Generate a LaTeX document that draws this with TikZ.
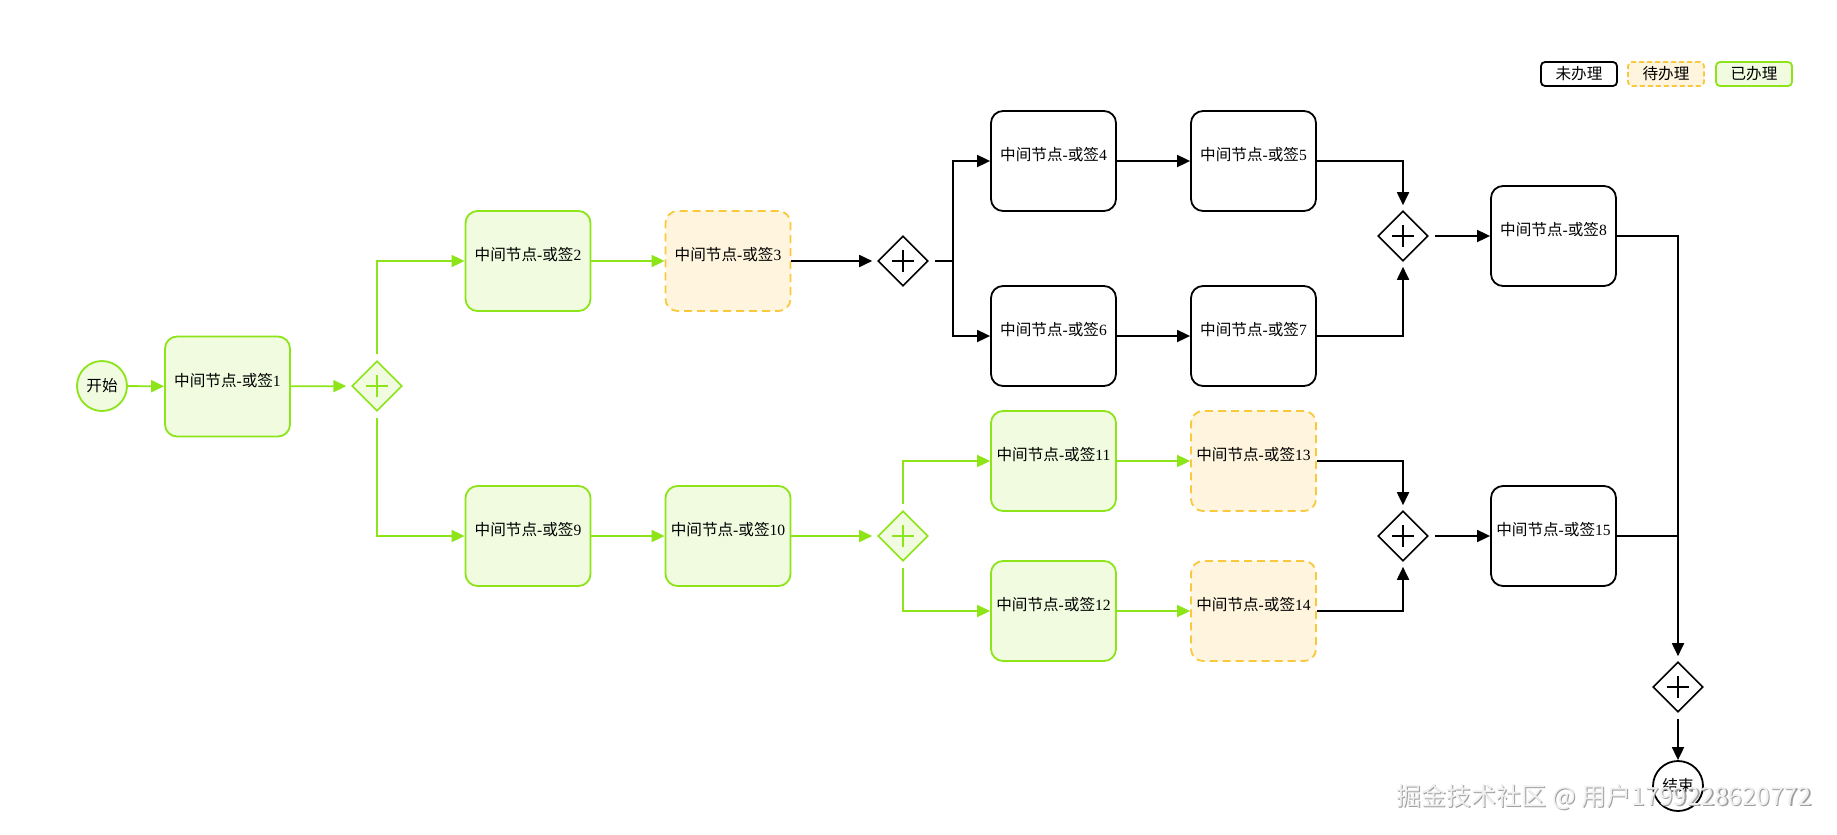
\documentclass[tikz,border=0pt]{standalone}
\usepackage{fontspec}
\setmainfont{Liberation Serif}
\newfontfamily\cjk{Noto Sans CJK SC}
\usetikzlibrary{arrows.meta,shapes.geometric}
\definecolor{gline}{RGB}{140,228,25}
\definecolor{gfill}{RGB}{240,251,224}
\definecolor{oline}{RGB}{250,200,60}
\definecolor{ofill}{RGB}{255,245,222}
\newcommand{\lbl}[1]{\raisebox{3pt}[\height][\depth]{{\cjk 中间节点}-{\cjk 或签}#1}}
\tikzset{
  base/.style={font=\fontsize{7.8pt}{9pt}\selectfont, inner sep=0pt},
  task/.style={base, rectangle, rounded corners=6pt, minimum width=62.5pt, minimum height=50pt, line width=0.9pt},
  donebox/.style={task, draw=gline, fill=gfill},
  waitbox/.style={task, draw=oline, fill=ofill, dash pattern=on 4pt off 2.5pt},
  openbox/.style={task, draw=black, fill=white},
  gwbase/.style={diamond, minimum width=25pt, minimum height=25pt, inner sep=0pt, line width=0.8pt,
    path picture={\draw[#1, line width=0.7pt]
      ([xshift=-5.5pt]path picture bounding box.center) -- ([xshift=5.5pt]path picture bounding box.center)
      ([yshift=-5.5pt]path picture bounding box.center) -- ([yshift=5.5pt]path picture bounding box.center);}},
  gwg/.style={gwbase=gline, draw=gline, fill=gfill},
  gwb/.style={gwbase=black, draw=black, fill=white},
  evt/.style={base, circle, minimum size=25pt, line width=0.9pt},
  legbox/.style={base, rectangle, rounded corners=2pt, minimum width=38pt, minimum height=12pt, line width=0.9pt},
  con/.style={line width=0.9pt, -{Triangle[length=6.5pt,width=6pt]}},
  gcon/.style={con, draw=gline},
  bcon/.style={con, draw=black},
  bline/.style={line width=0.9pt, draw=black},
  gapin/.style={shorten >=2.5pt},
  gapout/.style={shorten <=3pt},
}
\begin{document}
\begin{tikzpicture}[x=0.5pt,y=-0.5pt]
\useasboundingbox (0,0) rectangle (1837,835);
% legend
\node[legbox, draw=black, fill=white] (l1) at (1579,74) {\cjk 未办理};
\node[legbox, draw=oline, fill=ofill, dash pattern=on 2.5pt off 1.5pt] (l2) at (1666,74) {\cjk 待办理};
\node[legbox, draw=gline, fill=gfill] (l3) at (1754,74) {\cjk 已办理};
% nodes
\node[evt, draw=gline, fill=gfill] (start) at (102,386) {\cjk 开始};
\node[donebox] (n1) at (227.5,386.5) {\lbl{1}};
\node[gwg] (gw1) at (377,386) {};
\node[donebox] (n2) at (528,261) {\lbl{2}};
\node[waitbox] (n3) at (728,261) {\lbl{3}};
\node[gwb] (gw2) at (903,261) {};
\coordinate (b2) at (953,261);
\node[openbox] (n4) at (1053.5,161) {\lbl{4}};
\node[openbox] (n5) at (1253.5,161) {\lbl{5}};
\node[openbox] (n6) at (1053.5,336) {\lbl{6}};
\node[openbox] (n7) at (1253.5,336) {\lbl{7}};
\node[gwb] (gw3) at (1403,236) {};
\node[openbox] (n8) at (1553.5,236) {\lbl{8}};
\node[donebox] (n9) at (528,536) {\lbl{9}};
\node[donebox] (n10) at (728,536) {\lbl{10}};
\node[gwg] (gw4) at (903,536) {};
\node[donebox] (n11) at (1053.5,461) {\lbl{11}};
\node[donebox] (n12) at (1053.5,611) {\lbl{12}};
\node[waitbox] (n13) at (1253.5,461) {\lbl{13}};
\node[waitbox] (n14) at (1253.5,611) {\lbl{14}};
\node[gwb] (gw5) at (1403,536) {};
\node[openbox] (n15) at (1553.5,536) {\lbl{15}};
\coordinate (j15) at (1678,536);
\node[gwb] (gw6) at (1678,687) {};
\node[evt, draw=black, fill=white] (end) at (1678,786) {\cjk 结束};
% connectors
\draw[gcon] (start) -- (n1);
\draw[gcon, gapin] (n1) -- (gw1);
\draw[gcon, gapout] (gw1.north) |- (n2.west);
\draw[gcon, gapout] (gw1.south) |- (n9.west);
\draw[gcon] (n2) -- (n3);
\draw[bcon, gapin] (n3) -- (gw2);
\draw[bline, gapout] (gw2.east) -- (b2);
\draw[bcon] (b2) |- (n4.west);
\draw[bcon] (b2) |- (n6.west);
\draw[bcon] (n4) -- (n5);
\draw[bcon] (n6) -- (n7);
\draw[bcon, gapin] (n5.east) -| (gw3.north);
\draw[bcon, gapin] (n7.east) -| (gw3.south);
\draw[bcon, gapout] (gw3.east) -- (n8.west);
\draw[bcon, gapin] (n8.east) -| (gw6.north);
\draw[gcon] (n9) -- (n10);
\draw[gcon, gapin] (n10) -- (gw4);
\draw[gcon, gapout] (gw4.north) |- (n11.west);
\draw[gcon, gapout] (gw4.south) |- (n12.west);
\draw[gcon] (n11) -- (n13);
\draw[gcon] (n12) -- (n14);
\draw[bcon, gapin] (n13.east) -| (gw5.north);
\draw[bcon, gapin] (n14.east) -| (gw5.south);
\draw[bcon, gapout] (gw5.east) -- (n15.west);
\draw[bline] (n15.east) -- (j15);
\draw[bcon, gapout] (gw6.south) -- (end.north);
% watermark
\node[font=\cjk\fontsize{12.5pt}{14pt}\selectfont, text=gray!75, inner sep=0pt] (wms) at (1605.5,798.5) {掘金技术社区 @ 用户1799228620772};
\node[font=\cjk\fontsize{12.5pt}{14pt}\selectfont, text=gray!12, inner sep=0pt] (wm) at (1604,797) {掘金技术社区 @ 用户1799228620772};
\end{tikzpicture}
\end{document}
